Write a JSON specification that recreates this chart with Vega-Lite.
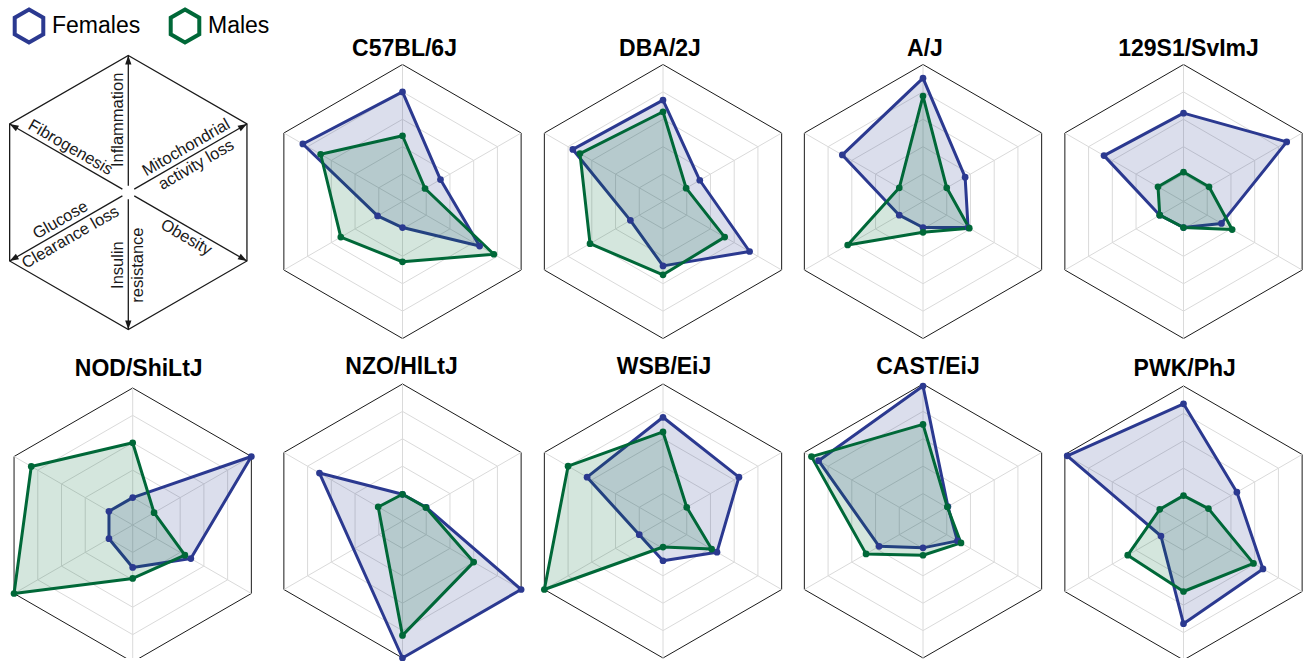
{
  "$schema": "https://vega.github.io/schema/vega-lite/v6.json",
  "padding": {"left": 0, "top": 7.5, "right": 0, "bottom": 0},
  "bounds": "flush",
  "align": "each",
  "columns": 5,
  "spacing": {"row": 45.5, "column": 0},
  "datasets": {
    "grid": [
      {"v": 0.2, "i": 0}, {"v": 0.2, "i": 1}, {"v": 0.2, "i": 2}, {"v": 0.2, "i": 3}, {"v": 0.2, "i": 4}, {"v": 0.2, "i": 5},
      {"v": 0.4, "i": 0}, {"v": 0.4, "i": 1}, {"v": 0.4, "i": 2}, {"v": 0.4, "i": 3}, {"v": 0.4, "i": 4}, {"v": 0.4, "i": 5},
      {"v": 0.6, "i": 0}, {"v": 0.6, "i": 1}, {"v": 0.6, "i": 2}, {"v": 0.6, "i": 3}, {"v": 0.6, "i": 4}, {"v": 0.6, "i": 5},
      {"v": 0.8, "i": 0}, {"v": 0.8, "i": 1}, {"v": 0.8, "i": 2}, {"v": 0.8, "i": 3}, {"v": 0.8, "i": 4}, {"v": 0.8, "i": 5},
      {"v": 1, "i": 0}, {"v": 1, "i": 1}, {"v": 1, "i": 2}, {"v": 1, "i": 3}, {"v": 1, "i": 4}, {"v": 1, "i": 5}
    ],
    "labs": [
      {"i": 0, "t": "Inflammation\n"},
      {"i": 1, "t": "Mitochondrial\nactivity loss"},
      {"i": 2, "t": "\nObesity"},
      {"i": 3, "t": "Insulin\nresistance"},
      {"i": 4, "t": "Glucose\nClearance loss"},
      {"i": 5, "t": "Fibrogenesis\n"}
    ],
    "vals": [
      {"s": "C57BL/6J", "sex": "Females", "i": 0, "v": 0.80}, {"s": "C57BL/6J", "sex": "Females", "i": 1, "v": 0.32}, {"s": "C57BL/6J", "sex": "Females", "i": 2, "v": 0.65}, {"s": "C57BL/6J", "sex": "Females", "i": 3, "v": 0.19}, {"s": "C57BL/6J", "sex": "Females", "i": 4, "v": 0.21}, {"s": "C57BL/6J", "sex": "Females", "i": 5, "v": 0.84},
      {"s": "C57BL/6J", "sex": "Males", "i": 0, "v": 0.48}, {"s": "C57BL/6J", "sex": "Males", "i": 1, "v": 0.19}, {"s": "C57BL/6J", "sex": "Males", "i": 2, "v": 0.77}, {"s": "C57BL/6J", "sex": "Males", "i": 3, "v": 0.44}, {"s": "C57BL/6J", "sex": "Males", "i": 4, "v": 0.52}, {"s": "C57BL/6J", "sex": "Males", "i": 5, "v": 0.69},
      {"s": "DBA/2J", "sex": "Females", "i": 0, "v": 0.74}, {"s": "DBA/2J", "sex": "Females", "i": 1, "v": 0.31}, {"s": "DBA/2J", "sex": "Females", "i": 2, "v": 0.73}, {"s": "DBA/2J", "sex": "Females", "i": 3, "v": 0.47}, {"s": "DBA/2J", "sex": "Females", "i": 4, "v": 0.275}, {"s": "DBA/2J", "sex": "Females", "i": 5, "v": 0.76},
      {"s": "DBA/2J", "sex": "Males", "i": 0, "v": 0.655}, {"s": "DBA/2J", "sex": "Males", "i": 1, "v": 0.195}, {"s": "DBA/2J", "sex": "Males", "i": 2, "v": 0.52}, {"s": "DBA/2J", "sex": "Males", "i": 3, "v": 0.535}, {"s": "DBA/2J", "sex": "Males", "i": 4, "v": 0.615}, {"s": "DBA/2J", "sex": "Males", "i": 5, "v": 0.70},
      {"s": "A/J", "sex": "Females", "i": 0, "v": 0.90}, {"s": "A/J", "sex": "Females", "i": 1, "v": 0.355}, {"s": "A/J", "sex": "Females", "i": 2, "v": 0.38}, {"s": "A/J", "sex": "Females", "i": 3, "v": 0.19}, {"s": "A/J", "sex": "Females", "i": 4, "v": 0.20}, {"s": "A/J", "sex": "Females", "i": 5, "v": 0.68},
      {"s": "A/J", "sex": "Males", "i": 0, "v": 0.77}, {"s": "A/J", "sex": "Males", "i": 1, "v": 0.20}, {"s": "A/J", "sex": "Males", "i": 2, "v": 0.39}, {"s": "A/J", "sex": "Males", "i": 3, "v": 0.225}, {"s": "A/J", "sex": "Males", "i": 4, "v": 0.635}, {"s": "A/J", "sex": "Males", "i": 5, "v": 0.20},
      {"s": "129S1/SvImJ", "sex": "Females", "i": 0, "v": 0.645}, {"s": "129S1/SvImJ", "sex": "Females", "i": 1, "v": 0.87}, {"s": "129S1/SvImJ", "sex": "Females", "i": 2, "v": 0.32}, {"s": "129S1/SvImJ", "sex": "Females", "i": 3, "v": 0.19}, {"s": "129S1/SvImJ", "sex": "Females", "i": 4, "v": 0.20}, {"s": "129S1/SvImJ", "sex": "Females", "i": 5, "v": 0.67},
      {"s": "129S1/SvImJ", "sex": "Males", "i": 0, "v": 0.215}, {"s": "129S1/SvImJ", "sex": "Males", "i": 1, "v": 0.215}, {"s": "129S1/SvImJ", "sex": "Males", "i": 2, "v": 0.41}, {"s": "129S1/SvImJ", "sex": "Males", "i": 3, "v": 0.19}, {"s": "129S1/SvImJ", "sex": "Males", "i": 4, "v": 0.20}, {"s": "129S1/SvImJ", "sex": "Males", "i": 5, "v": 0.215},
      {"s": "NOD/ShiLtJ", "sex": "Females", "i": 0, "v": 0.20}, {"s": "NOD/ShiLtJ", "sex": "Females", "i": 1, "v": 1.0}, {"s": "NOD/ShiLtJ", "sex": "Females", "i": 2, "v": 0.49}, {"s": "NOD/ShiLtJ", "sex": "Females", "i": 3, "v": 0.31}, {"s": "NOD/ShiLtJ", "sex": "Females", "i": 4, "v": 0.20}, {"s": "NOD/ShiLtJ", "sex": "Females", "i": 5, "v": 0.20},
      {"s": "NOD/ShiLtJ", "sex": "Males", "i": 0, "v": 0.60}, {"s": "NOD/ShiLtJ", "sex": "Males", "i": 1, "v": 0.18}, {"s": "NOD/ShiLtJ", "sex": "Males", "i": 2, "v": 0.44}, {"s": "NOD/ShiLtJ", "sex": "Males", "i": 3, "v": 0.39}, {"s": "NOD/ShiLtJ", "sex": "Males", "i": 4, "v": 1.0}, {"s": "NOD/ShiLtJ", "sex": "Males", "i": 5, "v": 0.855},
      {"s": "NZO/HlLtJ", "sex": "Females", "i": 0, "v": 0.195}, {"s": "NZO/HlLtJ", "sex": "Females", "i": 1, "v": 0.20}, {"s": "NZO/HlLtJ", "sex": "Females", "i": 2, "v": 1.0}, {"s": "NZO/HlLtJ", "sex": "Females", "i": 3, "v": 1.0}, {"s": "NZO/HlLtJ", "sex": "Females", "i": 5, "v": 0.70},
      {"s": "NZO/HlLtJ", "sex": "Males", "i": 0, "v": 0.195}, {"s": "NZO/HlLtJ", "sex": "Males", "i": 1, "v": 0.197}, {"s": "NZO/HlLtJ", "sex": "Males", "i": 2, "v": 0.60}, {"s": "NZO/HlLtJ", "sex": "Males", "i": 3, "v": 0.835}, {"s": "NZO/HlLtJ", "sex": "Males", "i": 5, "v": 0.205},
      {"s": "WSB/EiJ", "sex": "Females", "i": 0, "v": 0.757}, {"s": "WSB/EiJ", "sex": "Females", "i": 1, "v": 0.64}, {"s": "WSB/EiJ", "sex": "Females", "i": 2, "v": 0.455}, {"s": "WSB/EiJ", "sex": "Females", "i": 3, "v": 0.29}, {"s": "WSB/EiJ", "sex": "Females", "i": 4, "v": 0.20}, {"s": "WSB/EiJ", "sex": "Females", "i": 5, "v": 0.64},
      {"s": "WSB/EiJ", "sex": "Males", "i": 0, "v": 0.65}, {"s": "WSB/EiJ", "sex": "Males", "i": 1, "v": 0.20}, {"s": "WSB/EiJ", "sex": "Males", "i": 2, "v": 0.41}, {"s": "WSB/EiJ", "sex": "Males", "i": 3, "v": 0.19}, {"s": "WSB/EiJ", "sex": "Males", "i": 4, "v": 1.0}, {"s": "WSB/EiJ", "sex": "Males", "i": 5, "v": 0.80},
      {"s": "CAST/EiJ", "sex": "Females", "i": 0, "v": 0.985}, {"s": "CAST/EiJ", "sex": "Females", "i": 1, "v": 0.21}, {"s": "CAST/EiJ", "sex": "Females", "i": 2, "v": 0.29}, {"s": "CAST/EiJ", "sex": "Females", "i": 3, "v": 0.196}, {"s": "CAST/EiJ", "sex": "Females", "i": 4, "v": 0.37}, {"s": "CAST/EiJ", "sex": "Females", "i": 5, "v": 0.88},
      {"s": "CAST/EiJ", "sex": "Males", "i": 0, "v": 0.705}, {"s": "CAST/EiJ", "sex": "Males", "i": 1, "v": 0.205}, {"s": "CAST/EiJ", "sex": "Males", "i": 2, "v": 0.32}, {"s": "CAST/EiJ", "sex": "Males", "i": 3, "v": 0.25}, {"s": "CAST/EiJ", "sex": "Males", "i": 4, "v": 0.48}, {"s": "CAST/EiJ", "sex": "Males", "i": 5, "v": 0.94},
      {"s": "PWK/PhJ", "sex": "Females", "i": 0, "v": 0.87}, {"s": "PWK/PhJ", "sex": "Females", "i": 1, "v": 0.45}, {"s": "PWK/PhJ", "sex": "Females", "i": 2, "v": 0.67}, {"s": "PWK/PhJ", "sex": "Females", "i": 3, "v": 0.735}, {"s": "PWK/PhJ", "sex": "Females", "i": 4, "v": 0.19}, {"s": "PWK/PhJ", "sex": "Females", "i": 5, "v": 0.98},
      {"s": "PWK/PhJ", "sex": "Males", "i": 0, "v": 0.20}, {"s": "PWK/PhJ", "sex": "Males", "i": 1, "v": 0.21}, {"s": "PWK/PhJ", "sex": "Males", "i": 2, "v": 0.59}, {"s": "PWK/PhJ", "sex": "Males", "i": 3, "v": 0.50}, {"s": "PWK/PhJ", "sex": "Males", "i": 4, "v": 0.47}, {"s": "PWK/PhJ", "sex": "Males", "i": 5, "v": 0.20}
    ]
  },
  "concat": [
    {
      "width": 272, "height": 274,
      "encoding": {
        "x": {"field": "x", "type": "quantitative", "scale": {"domain": [-0.9365, 1.0489], "nice": false, "zero": false}, "axis": null},
        "y": {"field": "y", "type": "quantitative", "scale": {"domain": [-1.0657, 0.9343], "nice": false, "zero": false}, "axis": null}
      },
      "layer": [
        {"data": {"name": "grid"}, "transform": [{"filter": "datum.v == 1"}, {"calculate": "datum.v*sin(datum.i*PI/3)", "as": "x"}, {"calculate": "datum.v*cos(datum.i*PI/3)", "as": "y"}],
         "mark": {"type": "line", "interpolate": "linear-closed", "stroke": "#1a1a1a", "strokeWidth": 1.3},
         "encoding": {"order": {"field": "i", "type": "quantitative"}}},
        {"data": {"name": "grid"}, "transform": [{"filter": "datum.v == 1"}, {"calculate": "datum.v*sin(datum.i*PI/3)", "as": "x"}, {"calculate": "datum.v*cos(datum.i*PI/3)", "as": "y"}, {"calculate": "0.05*datum.x", "as": "x0"}, {"calculate": "0.05*datum.y", "as": "y0"}],
         "mark": {"type": "rule", "stroke": "#1a1a1a", "strokeWidth": 1.3},
         "encoding": {"x2": {"field": "x0"}, "y2": {"field": "y0"}}},
        {"data": {"name": "grid"}, "transform": [{"filter": "datum.v == 1"}, {"calculate": "datum.v*sin(datum.i*PI/3)", "as": "x"}, {"calculate": "datum.v*cos(datum.i*PI/3)", "as": "y"}, {"calculate": "datum.i*60", "as": "a"}],
         "mark": {"type": "point", "shape": "M0,0L0.35,1L-0.35,1Z", "size": 324, "filled": true, "color": "#1a1a1a", "opacity": 1, "strokeWidth": 0},
         "encoding": {"angle": {"field": "a", "type": "quantitative", "scale": null}}},
        {"data": {"name": "labs"}, "transform": [{"calculate": "0.53*sin(datum.i*PI/3)", "as": "x"}, {"calculate": "0.53*cos(datum.i*PI/3)", "as": "y"}, {"calculate": "(datum.i % 3)*60 - 90", "as": "a"}],
         "mark": {"type": "text", "font": "Liberation Sans", "fontSize": 16.5, "lineBreak": "\n", "lineHeight": 20, "dy": -10, "align": "center", "baseline": "middle", "color": "#1a1a1a"},
         "encoding": {"text": {"field": "t", "type": "nominal"}, "angle": {"field": "a", "type": "quantitative", "scale": null}}}
      ]
    },
    {
      "width": 261, "height": 274,
      "title": {"text": "C57BL/6J", "offset": 1.5, "dx": 2},
      "encoding": {
        "x": {"field": "x", "type": "quantitative", "scale": {"domain": [-0.9526, 0.9526], "nice": false, "zero": false}, "axis": null},
        "y": {"field": "y", "type": "quantitative", "scale": {"domain": [-1, 1], "nice": false, "zero": false}, "axis": null}
      },
      "layer": [
        {"data": {"name": "grid"}, "transform": [{"calculate": "datum.v*sin(datum.i*PI/3)", "as": "x"}, {"calculate": "datum.v*cos(datum.i*PI/3)", "as": "y"}],
         "mark": {"type": "line", "interpolate": "linear-closed", "strokeWidth": 1},
         "encoding": {"detail": {"field": "v", "type": "nominal"}, "order": {"field": "i", "type": "quantitative"}, "stroke": {"condition": {"test": "datum.v == 1", "value": "#1a1a1a"}, "value": "#dadada"}}},
        {"data": {"name": "grid"}, "transform": [{"filter": "datum.v == 1"}, {"calculate": "datum.v*sin(datum.i*PI/3)", "as": "x"}, {"calculate": "datum.v*cos(datum.i*PI/3)", "as": "y"}],
         "mark": {"type": "rule", "stroke": "#dadada", "strokeWidth": 1},
         "encoding": {"x2": {"datum": 0}, "y2": {"datum": 0}}},
        {"data": {"name": "vals"}, "transform": [{"filter": "datum.s == 'C57BL/6J'"}, {"calculate": "datum.v*sin(datum.i*PI/3)", "as": "x"}, {"calculate": "datum.v*cos(datum.i*PI/3)", "as": "y"}],
         "mark": {"type": "line", "interpolate": "linear-closed", "strokeWidth": 3, "fillOpacity": 0.17, "strokeJoin": "round"},
         "encoding": {"stroke": {"field": "sex", "type": "nominal", "legend": {"title": null, "orient": "none", "legendX": 10.5, "legendY": -57, "direction": "horizontal", "symbolType": "M0,-1L0.866,-0.5L0.866,0.5L0,1L-0.866,0.5L-0.866,-0.5Z", "symbolSize": 1089, "symbolStrokeWidth": 4, "symbolFillColor": "white", "symbolOpacity": 1, "labelFont": "Liberation Sans", "labelFontSize": 23, "labelColor": "#000000", "labelOffset": 4.5, "columnPadding": 22, "padding": 0, "labelLimit": 300}},
                      "fill": {"field": "sex", "type": "nominal", "legend": null},
                      "order": {"field": "i", "type": "quantitative"}}},
        {"data": {"name": "vals"}, "transform": [{"filter": "datum.s == 'C57BL/6J'"}, {"calculate": "datum.v*sin(datum.i*PI/3)", "as": "x"}, {"calculate": "datum.v*cos(datum.i*PI/3)", "as": "y"}],
         "mark": {"type": "circle", "size": 45, "opacity": 1},
         "encoding": {"fill": {"field": "sex", "type": "nominal", "legend": null}}}
      ]
    },
    {
      "width": 260, "height": 274,
      "title": {"text": "DBA/2J", "offset": 1.5, "dx": -3},
      "encoding": {
        "x": {"field": "x", "type": "quantitative", "scale": {"domain": [-0.9489, 0.9489], "nice": false, "zero": false}, "axis": null},
        "y": {"field": "y", "type": "quantitative", "scale": {"domain": [-1, 1], "nice": false, "zero": false}, "axis": null}
      },
      "layer": [
        {"data": {"name": "grid"}, "transform": [{"calculate": "datum.v*sin(datum.i*PI/3)", "as": "x"}, {"calculate": "datum.v*cos(datum.i*PI/3)", "as": "y"}],
         "mark": {"type": "line", "interpolate": "linear-closed", "strokeWidth": 1},
         "encoding": {"detail": {"field": "v", "type": "nominal"}, "order": {"field": "i", "type": "quantitative"}, "stroke": {"condition": {"test": "datum.v == 1", "value": "#1a1a1a"}, "value": "#dadada"}}},
        {"data": {"name": "grid"}, "transform": [{"filter": "datum.v == 1"}, {"calculate": "datum.v*sin(datum.i*PI/3)", "as": "x"}, {"calculate": "datum.v*cos(datum.i*PI/3)", "as": "y"}],
         "mark": {"type": "rule", "stroke": "#dadada", "strokeWidth": 1},
         "encoding": {"x2": {"datum": 0}, "y2": {"datum": 0}}},
        {"data": {"name": "vals"}, "transform": [{"filter": "datum.s == 'DBA/2J'"}, {"calculate": "datum.v*sin(datum.i*PI/3)", "as": "x"}, {"calculate": "datum.v*cos(datum.i*PI/3)", "as": "y"}],
         "mark": {"type": "line", "interpolate": "linear-closed", "strokeWidth": 3, "fillOpacity": 0.17, "strokeJoin": "round"},
         "encoding": {"stroke": {"field": "sex", "type": "nominal", "legend": {"title": null}}, "fill": {"field": "sex", "type": "nominal", "legend": null}, "order": {"field": "i", "type": "quantitative"}}},
        {"data": {"name": "vals"}, "transform": [{"filter": "datum.s == 'DBA/2J'"}, {"calculate": "datum.v*sin(datum.i*PI/3)", "as": "x"}, {"calculate": "datum.v*cos(datum.i*PI/3)", "as": "y"}],
         "mark": {"type": "circle", "size": 45, "opacity": 1},
         "encoding": {"fill": {"field": "sex", "type": "nominal", "legend": null}}}
      ]
    },
    {
      "width": 260, "height": 274,
      "title": {"text": "A/J", "offset": 1.5, "dx": 2},
      "encoding": {
        "x": {"field": "x", "type": "quantitative", "scale": {"domain": [-0.9489, 0.9489], "nice": false, "zero": false}, "axis": null},
        "y": {"field": "y", "type": "quantitative", "scale": {"domain": [-1, 1], "nice": false, "zero": false}, "axis": null}
      },
      "layer": [
        {"data": {"name": "grid"}, "transform": [{"calculate": "datum.v*sin(datum.i*PI/3)", "as": "x"}, {"calculate": "datum.v*cos(datum.i*PI/3)", "as": "y"}],
         "mark": {"type": "line", "interpolate": "linear-closed", "strokeWidth": 1},
         "encoding": {"detail": {"field": "v", "type": "nominal"}, "order": {"field": "i", "type": "quantitative"}, "stroke": {"condition": {"test": "datum.v == 1", "value": "#1a1a1a"}, "value": "#dadada"}}},
        {"data": {"name": "grid"}, "transform": [{"filter": "datum.v == 1"}, {"calculate": "datum.v*sin(datum.i*PI/3)", "as": "x"}, {"calculate": "datum.v*cos(datum.i*PI/3)", "as": "y"}],
         "mark": {"type": "rule", "stroke": "#dadada", "strokeWidth": 1},
         "encoding": {"x2": {"datum": 0}, "y2": {"datum": 0}}},
        {"data": {"name": "vals"}, "transform": [{"filter": "datum.s == 'A/J'"}, {"calculate": "datum.v*sin(datum.i*PI/3)", "as": "x"}, {"calculate": "datum.v*cos(datum.i*PI/3)", "as": "y"}],
         "mark": {"type": "line", "interpolate": "linear-closed", "strokeWidth": 3, "fillOpacity": 0.17, "strokeJoin": "round"},
         "encoding": {"stroke": {"field": "sex", "type": "nominal", "legend": {"title": null}}, "fill": {"field": "sex", "type": "nominal", "legend": null}, "order": {"field": "i", "type": "quantitative"}}},
        {"data": {"name": "vals"}, "transform": [{"filter": "datum.s == 'A/J'"}, {"calculate": "datum.v*sin(datum.i*PI/3)", "as": "x"}, {"calculate": "datum.v*cos(datum.i*PI/3)", "as": "y"}],
         "mark": {"type": "circle", "size": 45, "opacity": 1},
         "encoding": {"fill": {"field": "sex", "type": "nominal", "legend": null}}}
      ]
    },
    {
      "width": 250, "height": 274,
      "title": {"text": "129S1/SvImJ", "offset": 1.5, "dx": 10.5},
      "encoding": {
        "x": {"field": "x", "type": "quantitative", "scale": {"domain": [-0.9526, 0.8723], "nice": false, "zero": false}, "axis": null},
        "y": {"field": "y", "type": "quantitative", "scale": {"domain": [-1, 1], "nice": false, "zero": false}, "axis": null}
      },
      "layer": [
        {"data": {"name": "grid"}, "transform": [{"calculate": "datum.v*sin(datum.i*PI/3)", "as": "x"}, {"calculate": "datum.v*cos(datum.i*PI/3)", "as": "y"}],
         "mark": {"type": "line", "interpolate": "linear-closed", "strokeWidth": 1},
         "encoding": {"detail": {"field": "v", "type": "nominal"}, "order": {"field": "i", "type": "quantitative"}, "stroke": {"condition": {"test": "datum.v == 1", "value": "#1a1a1a"}, "value": "#dadada"}}},
        {"data": {"name": "grid"}, "transform": [{"filter": "datum.v == 1"}, {"calculate": "datum.v*sin(datum.i*PI/3)", "as": "x"}, {"calculate": "datum.v*cos(datum.i*PI/3)", "as": "y"}],
         "mark": {"type": "rule", "stroke": "#dadada", "strokeWidth": 1},
         "encoding": {"x2": {"datum": 0}, "y2": {"datum": 0}}},
        {"data": {"name": "vals"}, "transform": [{"filter": "datum.s == '129S1/SvImJ'"}, {"calculate": "datum.v*sin(datum.i*PI/3)", "as": "x"}, {"calculate": "datum.v*cos(datum.i*PI/3)", "as": "y"}],
         "mark": {"type": "line", "interpolate": "linear-closed", "strokeWidth": 3, "fillOpacity": 0.17, "strokeJoin": "round"},
         "encoding": {"stroke": {"field": "sex", "type": "nominal", "legend": {"title": null}}, "fill": {"field": "sex", "type": "nominal", "legend": null}, "order": {"field": "i", "type": "quantitative"}}},
        {"data": {"name": "vals"}, "transform": [{"filter": "datum.s == '129S1/SvImJ'"}, {"calculate": "datum.v*sin(datum.i*PI/3)", "as": "x"}, {"calculate": "datum.v*cos(datum.i*PI/3)", "as": "y"}],
         "mark": {"type": "circle", "size": 45, "opacity": 1},
         "encoding": {"fill": {"field": "sex", "type": "nominal", "legend": null}}}
      ]
    },
    {
      "width": 272, "height": 274,
      "title": {"text": "NOD/ShiLtJ", "offset": 3, "dx": 2.7},
      "encoding": {
        "x": {"field": "x", "type": "quantitative", "scale": {"domain": [-0.9686, 1.0168], "nice": false, "zero": false}, "axis": null},
        "y": {"field": "y", "type": "quantitative", "scale": {"domain": [-0.9708, 1.0292], "nice": false, "zero": false}, "axis": null}
      },
      "layer": [
        {"data": {"name": "grid"}, "transform": [{"calculate": "datum.v*sin(datum.i*PI/3)", "as": "x"}, {"calculate": "datum.v*cos(datum.i*PI/3)", "as": "y"}],
         "mark": {"type": "line", "interpolate": "linear-closed", "strokeWidth": 1, "clip": true},
         "encoding": {"detail": {"field": "v", "type": "nominal"}, "order": {"field": "i", "type": "quantitative"}, "stroke": {"condition": {"test": "datum.v == 1", "value": "#1a1a1a"}, "value": "#dadada"}}},
        {"data": {"name": "grid"}, "transform": [{"filter": "datum.v == 1"}, {"calculate": "datum.v*sin(datum.i*PI/3)", "as": "x"}, {"calculate": "datum.v*cos(datum.i*PI/3)", "as": "y"}],
         "mark": {"type": "rule", "stroke": "#dadada", "strokeWidth": 1, "clip": true},
         "encoding": {"x2": {"datum": 0}, "y2": {"datum": 0}}},
        {"data": {"name": "vals"}, "transform": [{"filter": "datum.s == 'NOD/ShiLtJ'"}, {"calculate": "datum.v*sin(datum.i*PI/3)", "as": "x"}, {"calculate": "datum.v*cos(datum.i*PI/3)", "as": "y"}],
         "mark": {"type": "line", "interpolate": "linear-closed", "strokeWidth": 3, "fillOpacity": 0.17, "strokeJoin": "round", "clip": true},
         "encoding": {"stroke": {"field": "sex", "type": "nominal", "legend": {"title": null}}, "fill": {"field": "sex", "type": "nominal", "legend": null}, "order": {"field": "i", "type": "quantitative"}}},
        {"data": {"name": "vals"}, "transform": [{"filter": "datum.s == 'NOD/ShiLtJ'"}, {"calculate": "datum.v*sin(datum.i*PI/3)", "as": "x"}, {"calculate": "datum.v*cos(datum.i*PI/3)", "as": "y"}],
         "mark": {"type": "circle", "size": 45, "opacity": 1, "clip": true},
         "encoding": {"fill": {"field": "sex", "type": "nominal", "legend": null}}}
      ]
    },
    {
      "width": 261, "height": 274,
      "title": {"text": "NZO/HlLtJ", "offset": 3, "dx": -1},
      "encoding": {
        "x": {"field": "x", "type": "quantitative", "scale": {"domain": [-0.9526, 0.9526], "nice": false, "zero": false}, "axis": null},
        "y": {"field": "y", "type": "quantitative", "scale": {"domain": [-1, 1], "nice": false, "zero": false}, "axis": null}
      },
      "layer": [
        {"data": {"name": "grid"}, "transform": [{"calculate": "datum.v*sin(datum.i*PI/3)", "as": "x"}, {"calculate": "datum.v*cos(datum.i*PI/3)", "as": "y"}],
         "mark": {"type": "line", "interpolate": "linear-closed", "strokeWidth": 1},
         "encoding": {"detail": {"field": "v", "type": "nominal"}, "order": {"field": "i", "type": "quantitative"}, "stroke": {"condition": {"test": "datum.v == 1", "value": "#1a1a1a"}, "value": "#dadada"}}},
        {"data": {"name": "grid"}, "transform": [{"filter": "datum.v == 1"}, {"calculate": "datum.v*sin(datum.i*PI/3)", "as": "x"}, {"calculate": "datum.v*cos(datum.i*PI/3)", "as": "y"}],
         "mark": {"type": "rule", "stroke": "#dadada", "strokeWidth": 1},
         "encoding": {"x2": {"datum": 0}, "y2": {"datum": 0}}},
        {"data": {"name": "vals"}, "transform": [{"filter": "datum.s == 'NZO/HlLtJ'"}, {"calculate": "datum.v*sin(datum.i*PI/3)", "as": "x"}, {"calculate": "datum.v*cos(datum.i*PI/3)", "as": "y"}],
         "mark": {"type": "line", "interpolate": "linear-closed", "strokeWidth": 3, "fillOpacity": 0.17, "strokeJoin": "round"},
         "encoding": {"stroke": {"field": "sex", "type": "nominal", "legend": {"title": null}}, "fill": {"field": "sex", "type": "nominal", "legend": null}, "order": {"field": "i", "type": "quantitative"}}},
        {"data": {"name": "vals"}, "transform": [{"filter": "datum.s == 'NZO/HlLtJ'"}, {"calculate": "datum.v*sin(datum.i*PI/3)", "as": "x"}, {"calculate": "datum.v*cos(datum.i*PI/3)", "as": "y"}],
         "mark": {"type": "circle", "size": 45, "opacity": 1},
         "encoding": {"fill": {"field": "sex", "type": "nominal", "legend": null}}}
      ]
    },
    {
      "width": 260, "height": 274,
      "title": {"text": "WSB/EiJ", "offset": 3, "dx": 1},
      "encoding": {
        "x": {"field": "x", "type": "quantitative", "scale": {"domain": [-0.9489, 0.9489], "nice": false, "zero": false}, "axis": null},
        "y": {"field": "y", "type": "quantitative", "scale": {"domain": [-1, 1], "nice": false, "zero": false}, "axis": null}
      },
      "layer": [
        {"data": {"name": "grid"}, "transform": [{"calculate": "datum.v*sin(datum.i*PI/3)", "as": "x"}, {"calculate": "datum.v*cos(datum.i*PI/3)", "as": "y"}],
         "mark": {"type": "line", "interpolate": "linear-closed", "strokeWidth": 1},
         "encoding": {"detail": {"field": "v", "type": "nominal"}, "order": {"field": "i", "type": "quantitative"}, "stroke": {"condition": {"test": "datum.v == 1", "value": "#1a1a1a"}, "value": "#dadada"}}},
        {"data": {"name": "grid"}, "transform": [{"filter": "datum.v == 1"}, {"calculate": "datum.v*sin(datum.i*PI/3)", "as": "x"}, {"calculate": "datum.v*cos(datum.i*PI/3)", "as": "y"}],
         "mark": {"type": "rule", "stroke": "#dadada", "strokeWidth": 1},
         "encoding": {"x2": {"datum": 0}, "y2": {"datum": 0}}},
        {"data": {"name": "vals"}, "transform": [{"filter": "datum.s == 'WSB/EiJ'"}, {"calculate": "datum.v*sin(datum.i*PI/3)", "as": "x"}, {"calculate": "datum.v*cos(datum.i*PI/3)", "as": "y"}],
         "mark": {"type": "line", "interpolate": "linear-closed", "strokeWidth": 3, "fillOpacity": 0.17, "strokeJoin": "round"},
         "encoding": {"stroke": {"field": "sex", "type": "nominal", "legend": {"title": null}}, "fill": {"field": "sex", "type": "nominal", "legend": null}, "order": {"field": "i", "type": "quantitative"}}},
        {"data": {"name": "vals"}, "transform": [{"filter": "datum.s == 'WSB/EiJ'"}, {"calculate": "datum.v*sin(datum.i*PI/3)", "as": "x"}, {"calculate": "datum.v*cos(datum.i*PI/3)", "as": "y"}],
         "mark": {"type": "circle", "size": 45, "opacity": 1},
         "encoding": {"fill": {"field": "sex", "type": "nominal", "legend": null}}}
      ]
    },
    {
      "width": 260, "height": 274,
      "title": {"text": "CAST/EiJ", "offset": 3, "dx": 5},
      "encoding": {
        "x": {"field": "x", "type": "quantitative", "scale": {"domain": [-0.9489, 0.9489], "nice": false, "zero": false}, "axis": null},
        "y": {"field": "y", "type": "quantitative", "scale": {"domain": [-1, 1], "nice": false, "zero": false}, "axis": null}
      },
      "layer": [
        {"data": {"name": "grid"}, "transform": [{"calculate": "datum.v*sin(datum.i*PI/3)", "as": "x"}, {"calculate": "datum.v*cos(datum.i*PI/3)", "as": "y"}],
         "mark": {"type": "line", "interpolate": "linear-closed", "strokeWidth": 1},
         "encoding": {"detail": {"field": "v", "type": "nominal"}, "order": {"field": "i", "type": "quantitative"}, "stroke": {"condition": {"test": "datum.v == 1", "value": "#1a1a1a"}, "value": "#dadada"}}},
        {"data": {"name": "grid"}, "transform": [{"filter": "datum.v == 1"}, {"calculate": "datum.v*sin(datum.i*PI/3)", "as": "x"}, {"calculate": "datum.v*cos(datum.i*PI/3)", "as": "y"}],
         "mark": {"type": "rule", "stroke": "#dadada", "strokeWidth": 1},
         "encoding": {"x2": {"datum": 0}, "y2": {"datum": 0}}},
        {"data": {"name": "vals"}, "transform": [{"filter": "datum.s == 'CAST/EiJ'"}, {"calculate": "datum.v*sin(datum.i*PI/3)", "as": "x"}, {"calculate": "datum.v*cos(datum.i*PI/3)", "as": "y"}],
         "mark": {"type": "line", "interpolate": "linear-closed", "strokeWidth": 3, "fillOpacity": 0.17, "strokeJoin": "round"},
         "encoding": {"stroke": {"field": "sex", "type": "nominal", "legend": {"title": null}}, "fill": {"field": "sex", "type": "nominal", "legend": null}, "order": {"field": "i", "type": "quantitative"}}},
        {"data": {"name": "vals"}, "transform": [{"filter": "datum.s == 'CAST/EiJ'"}, {"calculate": "datum.v*sin(datum.i*PI/3)", "as": "x"}, {"calculate": "datum.v*cos(datum.i*PI/3)", "as": "y"}],
         "mark": {"type": "circle", "size": 45, "opacity": 1},
         "encoding": {"fill": {"field": "sex", "type": "nominal", "legend": null}}}
      ]
    },
    {
      "width": 250, "height": 274,
      "title": {"text": "PWK/PhJ", "offset": 3, "dx": 6.7},
      "encoding": {
        "x": {"field": "x", "type": "quantitative", "scale": {"domain": [-0.9526, 0.8723], "nice": false, "zero": false}, "axis": null},
        "y": {"field": "y", "type": "quantitative", "scale": {"domain": [-0.9854, 1.0146], "nice": false, "zero": false}, "axis": null}
      },
      "layer": [
        {"data": {"name": "grid"}, "transform": [{"calculate": "datum.v*sin(datum.i*PI/3)", "as": "x"}, {"calculate": "datum.v*cos(datum.i*PI/3)", "as": "y"}],
         "mark": {"type": "line", "interpolate": "linear-closed", "strokeWidth": 1, "clip": true},
         "encoding": {"detail": {"field": "v", "type": "nominal"}, "order": {"field": "i", "type": "quantitative"}, "stroke": {"condition": {"test": "datum.v == 1", "value": "#1a1a1a"}, "value": "#dadada"}}},
        {"data": {"name": "grid"}, "transform": [{"filter": "datum.v == 1"}, {"calculate": "datum.v*sin(datum.i*PI/3)", "as": "x"}, {"calculate": "datum.v*cos(datum.i*PI/3)", "as": "y"}],
         "mark": {"type": "rule", "stroke": "#dadada", "strokeWidth": 1, "clip": true},
         "encoding": {"x2": {"datum": 0}, "y2": {"datum": 0}}},
        {"data": {"name": "vals"}, "transform": [{"filter": "datum.s == 'PWK/PhJ'"}, {"calculate": "datum.v*sin(datum.i*PI/3)", "as": "x"}, {"calculate": "datum.v*cos(datum.i*PI/3)", "as": "y"}],
         "mark": {"type": "line", "interpolate": "linear-closed", "strokeWidth": 3, "fillOpacity": 0.17, "strokeJoin": "round", "clip": true},
         "encoding": {"stroke": {"field": "sex", "type": "nominal", "legend": {"title": null}}, "fill": {"field": "sex", "type": "nominal", "legend": null}, "order": {"field": "i", "type": "quantitative"}}},
        {"data": {"name": "vals"}, "transform": [{"filter": "datum.s == 'PWK/PhJ'"}, {"calculate": "datum.v*sin(datum.i*PI/3)", "as": "x"}, {"calculate": "datum.v*cos(datum.i*PI/3)", "as": "y"}],
         "mark": {"type": "circle", "size": 45, "opacity": 1, "clip": true},
         "encoding": {"fill": {"field": "sex", "type": "nominal", "legend": null}}}
      ]
    }
  ],
  "config": {
    "view": {"stroke": null},
    "range": {"category": ["#2b3990", "#006838"]},
    "legend": {"symbolBaseFillColor": "white", "symbolFillColor": "white"},
    "title": {"font": "Liberation Sans", "fontSize": 23, "fontWeight": "bold", "color": "#000000", "baseline": "alphabetic", "frame": "group", "anchor": "middle"}
  }
}
